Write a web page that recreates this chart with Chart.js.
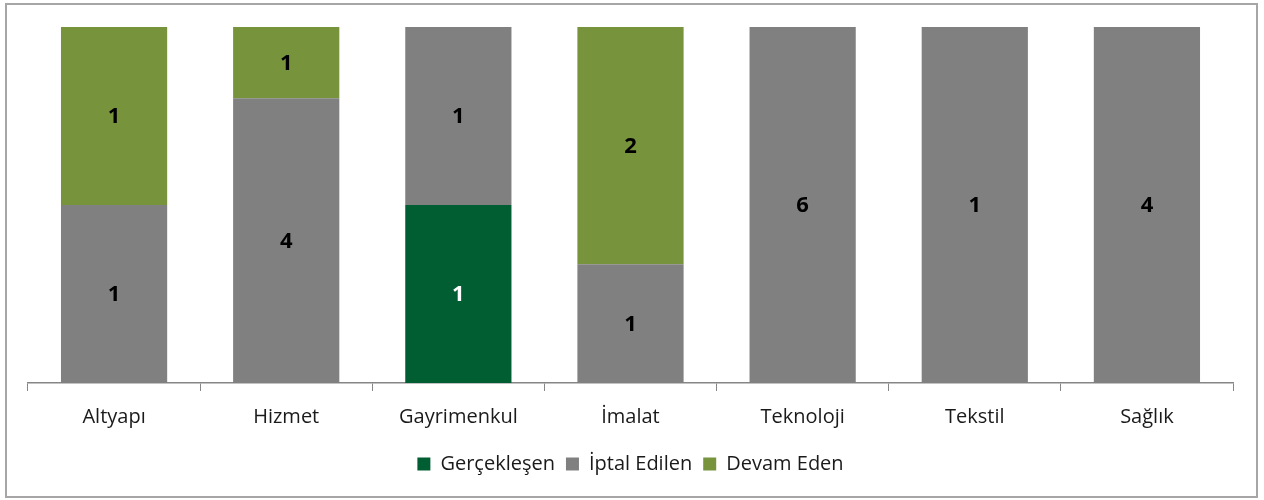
<!DOCTYPE html>
<html>
<head>
<meta charset="utf-8">
<script src="https://cdn.jsdelivr.net/npm/chart.js@4"></script>
<style>
  html, body { margin:0; padding:0; background:#fff; }
  #box { position:absolute; left:5px; top:3px; width:1249px; height:491px; border:2px solid #a6a6a6; }
  #box canvas { display:block; }
</style>
</head>
<body>
<div id="box"><canvas id="c" width="1249" height="491"></canvas></div>
<script>
'use strict';
const categories = ['Altyapı', 'Hizmet', 'Gayrimenkul', 'İmalat', 'Teknoloji', 'Tekstil', 'Sağlık'];
const gerceklesen = [0, 0, 1, 0, 0, 0, 0];
const iptalEdilen = [1, 4, 1, 1, 6, 1, 4];
const devamEden   = [1, 1, 0, 2, 0, 0, 0];

const totals = categories.map((_, i) => gerceklesen[i] + iptalEdilen[i] + devamEden[i]);
const pct = arr => arr.map((v, i) => totals[i] ? v / totals[i] * 100 : 0);

const FONT = '"Open Sans", "DejaVu Sans", sans-serif';

// draws raw counts in the middle of each segment
const countLabels = {
  id:'countLabels',
  afterDatasetsDraw(chart) {
    const ctx = chart.ctx;
    ctx.save();
    ctx.font = 'bold 22px ' + FONT;
    ctx.textAlign = 'center'; ctx.textBaseline = 'middle';
    chart.data.datasets.forEach((ds, di) => {
      chart.getDatasetMeta(di).data.forEach((bar, i) => {
        const v = ds.raw[i];
        if (!v) return;
        const p = bar.getProps(['x', 'y', 'base'], true);
        ctx.fillStyle = ds.labelColor;
        ctx.fillText(String(v), p.x, (p.y + p.base) / 2 + 1);
      });
    });
    ctx.restore();
  }
};

new Chart(document.getElementById('c'), {
  type:'bar',
  data:{ labels:categories, datasets:[
    { label:'Gerçekleşen', data:pct(gerceklesen), raw:gerceklesen, backgroundColor:'#005e32', labelColor:'#ffffff' },
    { label:'İptal Edilen', data:pct(iptalEdilen), raw:iptalEdilen, backgroundColor:'#808080', labelColor:'#000000' },
    { label:'Devam Eden', data:pct(devamEden), raw:devamEden, backgroundColor:'#77933c', labelColor:'#000000' },
  ]},
  options:{
    responsive:false, animation:false,
    datasets:{ bar:{ categoryPercentage:0.617, barPercentage:1, borderWidth:0 } },
    layout:{ padding:{ left:21, right:23, top:22, bottom:12 } },
    plugins:{
      tooltip:{ enabled:false },
      legend:{ position:'bottom',
        labels:{ color:'#1a1a1a', font:{ family:FONT, size:20 }, boxWidth:13, boxHeight:13, padding:11 } },
    },
    scales:{
      x:{ stacked:true,
        grid:{ offset:true, drawOnChartArea:false, color:'#868686', tickLength:8, tickColor:'#868686' },
        border:{ color:'#868686', width:1.5 },
        ticks:{ color:'#1a1a1a', font:{ family:FONT, size:20 }, padding:14 } },
      y:{ stacked:true, display:false, min:0, max:100 },
    },
  },
  plugins:[countLabels],
});
</script>
</body>
</html>
